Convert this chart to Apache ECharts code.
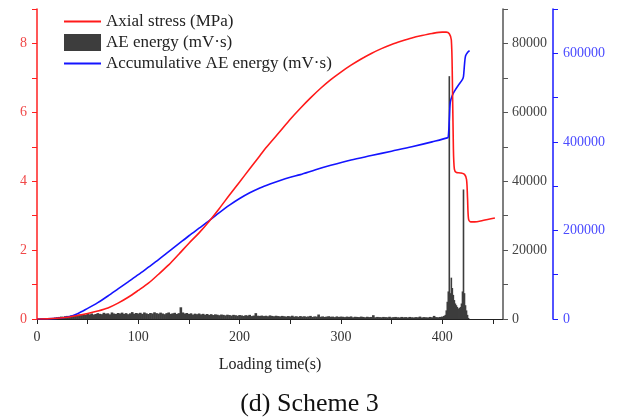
<!DOCTYPE html>
<html>
<head>
<meta charset="utf-8">
<script src="https://cdn.jsdelivr.net/npm/echarts@6/dist/echarts.min.js"></script>
<style>html,body{margin:0;padding:0;background:#fff}#c{width:619px;height:419px}</style>
</head>
<body>
<div id="c"></div>
<script>
// Axial stress (MPa): time (s), value
const stressTime = [0,10,20,30,40,50,60,70,80,90,100,110,120,130,140,150,160,170,180,190,200,210,220,226,240,250,260,270,280,290,300,310,320,330,340,350,360,370,380,390,400,404,407,409,410,411,412,414,418,422,424,425,426,428,432,440,452];
const stressVal  = [0,0.005,0.02,0.05,0.1,0.16,0.23,0.32,0.46,0.63,0.83,1.04,1.3,1.57,1.88,2.2,2.5,2.84,3.21,3.6,3.98,4.36,4.74,4.97,5.45,5.8,6.12,6.42,6.7,6.95,7.17,7.37,7.55,7.71,7.85,7.97,8.07,8.16,8.23,8.29,8.33,8.33,8.28,8.1,7.0,5.0,4.35,4.25,4.24,4.2,4.05,3.5,2.9,2.82,2.82,2.86,2.93];

// Accumulative AE energy (mV·s)
const cumTime = [0,10,20,30,40,50,60,70,80,90,100,110,120,130,140,150,160,170,180,190,200,210,220,230,240,250,260,275,290,310,330,350,370,390,405,406,407,408,410,412,416,420,421,422,423,425,427];
const cumVal  = [0,300,1500,4500,12000,24000,37000,52000,68000,84000,100000,117000,134000,152000,170000,188000,205000,222000,240000,257000,272000,285000,296000,305000,313000,320000,326000,337000,347000,359000,369000,379000,389000,400000,409000,412000,450000,490000,505000,514000,528000,541000,548000,575000,594000,602000,606000];

// AE energy (mV·s): background readings every 2 s from t = 2 s to 402 s
const aeNoiseStart = 2, aeNoiseStep = 2;
const aeNoise = [
 0,50,80,120,150,200,250,300,400,500,
 600,700,650,800,900,850,1000,1100,950,1200,
 1300,1150,1400,1250,1500,1350,1600,1300,1450,1700,
 1500,1400,1800,1550,1650,1350,1900,1600,1450,1750,
 1600,1850,1500,1700,1400,1650,2000,1550,1750,1600,
 1800,1500,1900,1650,1450,1750,1600,1950,1700,1550,
 1850,1600,1400,1700,1900,1500,1650,1800,1450,1700,
 3400,1900,1600,1750,1450,1650,1300,1550,1400,1600,
 1350,1500,1250,1450,1200,1400,1150,1350,1250,1100,
 1300,1200,1050,1250,1150,1000,1200,1100,950,1150,
 1050,900,1100,1000,1200,850,1000,1700,950,900,
 1000,850,950,800,1050,900,800,950,850,750,
 900,800,700,850,750,950,700,800,650,850,
 700,800,650,750,900,600,750,700,1300,650,
 750,600,700,800,650,700,550,750,600,700,
 650,550,700,600,750,500,650,600,550,700,
 600,500,650,550,600,1100,500,600,550,500,
 600,550,500,650,450,550,600,500,450,600,
 500,550,450,600,500,450,550,500,700,450,
 550,500,450,600,500,900,550,500,600,700,
 900];
// AE energy during failure, every 1 s
const aeEventTime = [403,404,405,406,407,408,409,410,411,412,413,414,415,416,417,418,419,420,421,422,423,424,425,426];
const aeEventVal  = [1200,2500,5000,8000,70500,7500,12000,9000,7000,5500,4500,4000,3500,3000,3200,3500,4500,8000,37600,7500,4000,2500,1200,300];

const xLabels = [0,100,200,300,400];
const xTicks = [0,50,100,150,200,250,300,350,400,450];

const F = 'Liberation Serif';
const pair = (a, b) => a.map((t, i) => [t, b[i]]);
const aeNoiseData = aeNoise.map((v, i) => [aeNoiseStart + i * aeNoiseStep, v]);
const aeEventData = pair(aeEventTime, aeEventVal);

const chart = echarts.init(document.getElementById('c'), null, {renderer: 'canvas'});
chart.setOption({
  animation: false,
  backgroundColor: '#fff',
  textStyle: {fontFamily: F},
  title: {
    text: '(d) Scheme 3', left: 'center', top: 386,
    textStyle: {fontFamily: F, fontSize: 26, fontWeight: 'normal', color: '#111'}
  },
  legend: {
    orient: 'vertical', left: 58, top: 8, itemGap: 4,
    itemWidth: 37, itemHeight: 17,
    textStyle: {fontFamily: F, fontSize: 17, color: '#222'},
    data: [
      {name: 'Axial stress (MPa)', itemStyle: {opacity: 0}},
      {name: 'AE energy (mV·s)', icon: 'rect'},
      {name: 'Accumulative AE energy (mV·s)', itemStyle: {opacity: 0}}
    ]
  },
  grid: {left: 37, right: 116, top: 9, bottom: 100, containLabel: false},
  xAxis: [{
    type: 'value', min: 0, max: 460, interval: 50,
    name: 'Loading time(s)', nameLocation: 'middle', nameGap: 38,
    nameTextStyle: {fontFamily: F, fontSize: 16, color: '#222'},
    axisLine: {onZero: false, lineStyle: {color: '#222', width: 1.2}},
    axisTick: {show: true, length: 5, inside: false, customValues: xTicks, lineStyle: {color: '#222'}},
    axisLabel: {customValues: xLabels, fontFamily: F, fontSize: 14, color: '#333', margin: 11,
      formatter: v => (v % 100 === 0 ? String(v) : '')},
    splitLine: {show: false}
  }, {
    type: 'value', min: 0, max: 460, show: false, gridIndex: 0, axisLine: {onZero: false}
  }],
  yAxis: [
    {
      type: 'value', min: 0, max: 9, interval: 1, position: 'left',
      axisLine: {show: true, onZero: false, lineStyle: {color: '#ff2020', width: 1.5}},
      axisTick: {show: true, length: 5, lineStyle: {color: '#ff2020'}},
      axisLabel: {fontFamily: F, fontSize: 14, color: '#f04848', margin: 10,
        formatter: v => (v % 2 === 0 ? String(v) : '')},
      splitLine: {show: false}
    },
    {
      type: 'value', min: 0, max: 90000, interval: 10000, position: 'right',
      axisLine: {show: true, onZero: false, lineStyle: {color: '#555', width: 1.5}},
      axisTick: {show: true, length: 5, lineStyle: {color: '#555'}},
      axisLabel: {fontFamily: F, fontSize: 14, color: '#444', margin: 9,
        formatter: v => (v % 20000 === 0 ? String(v) : '')},
      splitLine: {show: false}
    },
    {
      type: 'value', min: 0, max: 700000, interval: 100000, position: 'right', offset: 50,
      axisLine: {show: true, onZero: false, lineStyle: {color: '#1a1aff', width: 1.5}},
      axisTick: {show: true, length: 5, lineStyle: {color: '#1a1aff'}},
      axisLabel: {fontFamily: F, fontSize: 14, color: '#4b4bff', margin: 10,
        formatter: v => (v % 200000 === 0 ? String(v) : '')},
      splitLine: {show: false}
    }
  ],
  series: [
    {
      name: 'Axial stress (MPa)', type: 'line', yAxisIndex: 0, symbol: 'none', smooth: 0.3,
      lineStyle: {color: '#ff1a1a', width: 1.6}, itemStyle: {color: '#ff1a1a'},
      data: pair(stressTime, stressVal), z: 4
    },
    {
      name: 'AE energy (mV·s)', type: 'bar', xAxisIndex: 0, yAxisIndex: 1, barWidth: 2.6,
      itemStyle: {color: '#3d3d3d'}, data: aeNoiseData, z: 2
    },
    {
      name: 'AE energy (mV·s)', type: 'bar', xAxisIndex: 1, yAxisIndex: 1, barWidth: 1.6,
      itemStyle: {color: '#3d3d3d'}, data: aeEventData, z: 2
    },
    {
      name: 'Accumulative AE energy (mV·s)', type: 'line', yAxisIndex: 2, symbol: 'none', smooth: 0.3,
      lineStyle: {color: '#1414ff', width: 1.6}, itemStyle: {color: '#1414ff'},
      data: pair(cumTime, cumVal), z: 3
    }
  ]
});
</script>
</body>
</html>
